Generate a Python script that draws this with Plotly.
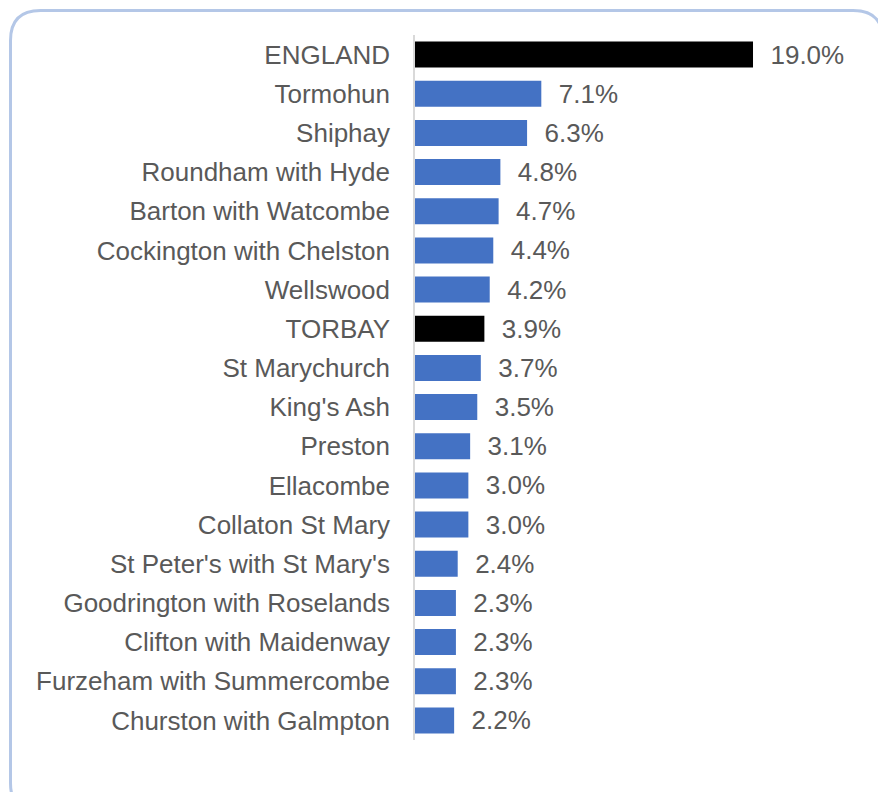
import plotly.graph_objects as go

categories = ["ENGLAND", "Tormohun", "Shiphay", "Roundham with Hyde", "Barton with Watcombe",
              "Cockington with Chelston", "Wellswood", "TORBAY", "St Marychurch", "King's Ash",
              "Preston", "Ellacombe", "Collaton St Mary", "St Peter's with St Mary's",
              "Goodrington with Roselands", "Clifton with Maidenway", "Furzeham with Summercombe",
              "Churston with Galmpton"]
values = [19.0, 7.1, 6.3, 4.8, 4.7, 4.4, 4.2, 3.9, 3.7, 3.5, 3.1, 3.0, 3.0, 2.4, 2.3, 2.3, 2.3, 2.2]
highlight = ["ENGLAND", "TORBAY"]

W, H = 878, 784
ml, mr, mt, mb = 407, 16, 27, 52
pw, ph = W - ml - mr, H - mt - mb
px_per_unit = 17.79

FONT = "Liberation Sans, Arial"
TXT = "#595959"

colors = ["#000000" if c in highlight else "#4472C4" for c in categories]
labels = ["  %.1f%%" % v for v in values]

fig = go.Figure(go.Bar(
    y=categories, x=values, orientation="h",
    marker=dict(color=colors, line=dict(width=0)),
    text=labels, textposition="outside", cliponaxis=False, constraintext="none",
    textfont=dict(family=FONT, size=26, color=TXT),
))

def px2x(p):
    return (p - ml) / pw

def px2y(p):
    return (H - mb - p) / ph

x0, x1, y0, y1 = px2x(2.5), px2x(875), px2y(2.5), px2y(805)
r = 30
rx, ry = r / pw, r / ph
path = (f"M {x0+rx},{y0} L {x1-rx},{y0} Q {x1},{y0} {x1},{y0-ry} "
        f"L {x1},{y1+ry} Q {x1},{y1} {x1-rx},{y1} L {x0+rx},{y1} "
        f"Q {x0},{y1} {x0},{y1+ry} L {x0},{y0-ry} Q {x0},{y0} {x0+rx},{y0} Z")

fig.update_layout(
    width=W, height=H,
    margin=dict(l=ml, r=mr, t=mt, b=mb),
    paper_bgcolor="white", plot_bgcolor="white",
    bargap=0.335,
    showlegend=False,
    uniformtext=dict(mode=False),
    font=dict(family=FONT, size=26, color=TXT),
    xaxis=dict(range=[0, pw / px_per_unit], visible=False, fixedrange=True),
    yaxis=dict(autorange="reversed", showline=True, linecolor="#D9D9D9", linewidth=1.5,
               ticks="", showgrid=False, ticklabelstandoff=18,
               tickfont=dict(family=FONT, size=26, color=TXT)),
    shapes=[dict(type="path", path=path, xref="paper", yref="paper",
                 line=dict(color="#B4C7E7", width=3), fillcolor="rgba(0,0,0,0)", layer="below")],
)

fig.write_html("out.html")
